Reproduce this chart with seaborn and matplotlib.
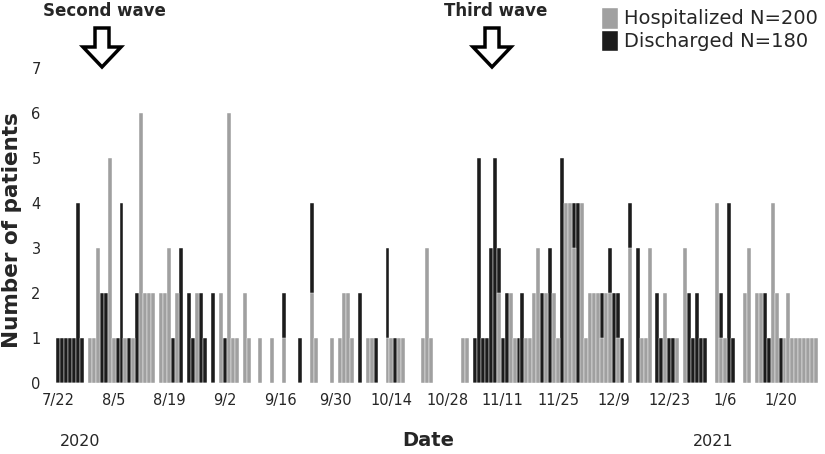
import matplotlib
matplotlib.use("Agg")
import matplotlib.pyplot as plt
from matplotlib.patches import FancyArrow, Patch
import numpy as np
import pandas as pd
import seaborn as sns

sns.set_theme(style="white")
plt.rcParams['font.family'] = ['DejaVu Sans']

# daily counts from 2020-07-22, one row = 14 days
start_date = "2020-07-22"
hospitalized = [
    0, 0, 0, 0, 0, 0, 0, 0, 1, 1, 3, 0, 0, 5,
    1, 0, 0, 1, 0, 1, 0, 6, 2, 2, 2, 0, 2, 2,
    3, 0, 2, 0, 0, 0, 0, 2, 0, 0, 0, 0, 0, 2,
    0, 6, 1, 1, 0, 2, 1, 0, 0, 1, 0, 0, 1, 0,
    0, 1, 0, 0, 0, 0, 0, 0, 2, 1, 0, 0, 0, 1,
    0, 1, 2, 2, 1, 0, 0, 0, 1, 1, 0, 0, 0, 1,
    1, 0, 1, 1, 0, 0, 0, 0, 1, 3, 1, 0, 0, 0,
    0, 0, 0, 0, 1, 1, 0, 0, 0, 0, 0, 0, 0, 2,
    0, 0, 2, 1, 0, 0, 1, 1, 2, 3, 0, 2, 0, 2,
    1, 0, 4, 4, 3, 0, 4, 1, 2, 2, 2, 1, 2, 2,
    0, 1, 0, 0, 3, 0, 0, 1, 1, 3, 0, 0, 0, 2,
    0, 0, 1, 0, 3, 0, 0, 0, 0, 0, 0, 0, 4, 1,
    1, 0, 0, 0, 0, 2, 3, 0, 2, 2, 0, 0, 4, 2,
    0, 1, 2, 1, 1, 1, 1, 1, 1, 1,
]
discharged = [
    1, 1, 1, 1, 1, 4, 1, 0, 0, 0, 2, 2, 2, 0,
    0, 1, 4, 0, 1, 0, 2, 0, 0, 0, 0, 0, 0, 0,
    0, 1, 0, 3, 0, 2, 1, 0, 2, 1, 0, 2, 0, 0,
    1, 0, 0, 0, 0, 0, 0, 0, 0, 0, 0, 0, 0, 0,
    0, 2, 0, 0, 0, 1, 0, 0, 4, 0, 0, 0, 0, 0,
    0, 0, 0, 0, 0, 0, 2, 0, 0, 0, 1, 0, 0, 3,
    0, 1, 0, 0, 0, 0, 0, 0, 0, 0, 0, 0, 0, 0,
    0, 0, 0, 0, 0, 0, 0, 1, 5, 1, 1, 3, 5, 3,
    1, 2, 0, 0, 1, 2, 0, 0, 0, 0, 2, 0, 3, 0,
    0, 5, 0, 0, 4, 4, 0, 0, 0, 0, 0, 2, 0, 3,
    2, 2, 1, 0, 4, 0, 3, 0, 0, 0, 0, 2, 1, 0,
    1, 1, 0, 0, 0, 2, 1, 2, 1, 1, 0, 0, 0, 2,
    0, 4, 1, 0, 0, 0, 0, 0, 0, 0, 2, 1, 0, 0,
    1, 0, 0, 0, 0, 0, 0, 0, 0, 0,
]
tick_labels = ["7/22", "8/5", "8/19", "9/2", "9/16", "9/30", "10/14",
               "10/28", "11/11", "11/25", "12/9", "12/23", "1/6", "1/20"]
legend_labels = ["Hospitalized N=200", "Discharged N=180"]
gray = "#a0a0a0"
black = "#1c1c1c"

days = pd.date_range(start_date, periods=len(hospitalized))
df = pd.DataFrame({"day": np.arange(len(days)),
                   "hosp": hospitalized, "disc": discharged})

W, H = 825, 454
fig = plt.figure(figsize=(W / 100, H / 100), dpi=100)
ax = fig.add_axes([56 / W, 1 - 383 / H, (824 - 56) / W, (383 - 59) / H])

# discharged underneath, hospitalized on top
sns.barplot(data=df, x="day", y="disc", native_scale=True, width=1, color=black,
            saturation=1, edgecolor="white", linewidth=0.3, errorbar=None, ax=ax)
sns.barplot(data=df, x="day", y="hosp", native_scale=True, width=1, color=gray,
            saturation=1, edgecolor="white", linewidth=0.3, errorbar=None, ax=ax)

ax.set_xlim(-0.5, 192.95)
ax.set_ylim(0, 7.2)
ax.set_yticks(range(8))
ax.set_xticks(np.arange(len(tick_labels)) * 14)
ax.set_xticklabels(tick_labels)
ax.tick_params(axis="both", length=0, labelsize=10.5)
ax.tick_params(axis="y", pad=11)
ax.tick_params(axis="x", pad=7)
ax.set_xlabel("")
ax.set_ylabel("")
sns.despine(ax=ax, left=True, bottom=True)

# overlay in pixel units for the annotations
ov = fig.add_axes([0, 0, 1, 1], facecolor="none")
ov.set_xlim(0, W)
ov.set_ylim(H, 0)
ov.axis("off")

ov.text(104, 11, "Second wave", ha="center", va="center", fontsize=12, weight="bold")
ov.text(496, 11, "Third wave", ha="center", va="center", fontsize=12, weight="bold")
for xa in (102, 492):
    ov.add_patch(FancyArrow(xa, 28, 0, 39, width=14, head_width=38, head_length=20,
                            length_includes_head=True, facecolor="white",
                            edgecolor="black", linewidth=2.5))

ov.text(428, 441, "Date", ha="center", va="center", fontsize=14, weight="bold")
ov.text(80, 441, "2020", ha="center", va="center", fontsize=11.5)
ov.text(713, 441, "2021", ha="center", va="center", fontsize=11.5)
ov.text(12, 230, "Number of patients", ha="center", va="center", rotation=90,
        fontsize=15.5, weight="bold")

handles = [Patch(facecolor=gray), Patch(facecolor=black)]
fig.legend(handles, legend_labels, loc="upper right", bbox_to_anchor=(1.0, 1.0),
           frameon=False, fontsize=14, handlelength=0.9, handleheight=1.35,
           handletextpad=0.3, labelspacing=0.05, borderpad=0.15, borderaxespad=0.2)

fig.savefig("out.png", dpi=100)
